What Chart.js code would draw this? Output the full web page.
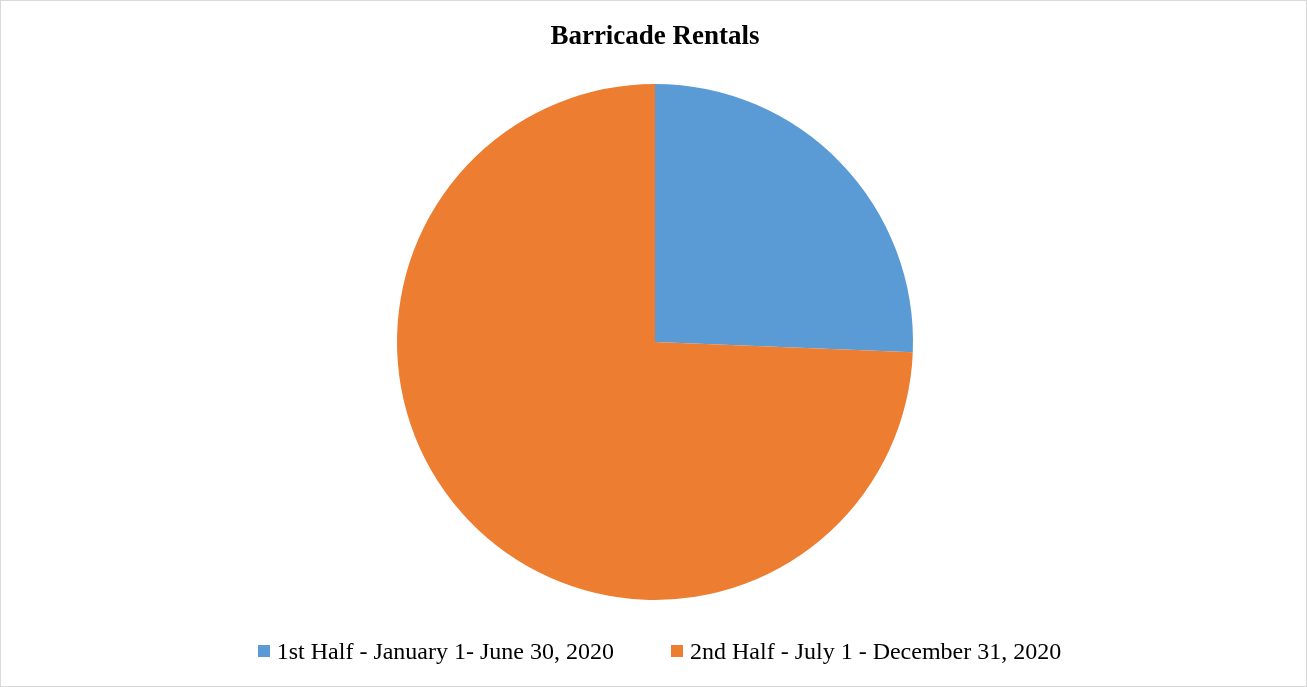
<!DOCTYPE html>
<html>
<head>
<meta charset="utf-8">
<script src="https://cdn.jsdelivr.net/npm/chart.js@4"></script>
<style>
  html, body { margin: 0; padding: 0; background: #fff; }
  #wrap {
    position: relative;
    width: 1307px;
    height: 687px;
    box-sizing: border-box;
    border: 1px solid #d9d9d9;
    background: #fff;
  }
  #chart { position: absolute; left: 0; top: 0; }
  #legend {
    position: absolute;
    left: 12px;
    right: 0;
    top: 636px;
    display: flex;
    justify-content: center;
    font-family: "Liberation Serif", "Times New Roman", serif;
    font-size: 24px;
    color: #000;
    line-height: 28px;
  }
  .item { display: flex; align-items: center; margin: 0 28.5px; }
  .box { width: 12px; height: 12px; margin-right: 7px; }
</style>
</head>
<body>
<div id="wrap">
  <canvas id="chart" width="1305" height="685"></canvas>
  <div id="legend"></div>
</div>
<script>
const categories = [
  "1st Half - January 1- June 30, 2020",
  "2nd Half - July 1 - December 31, 2020",
];
const rentals = [41, 119];
const colors = ["#5B9BD5", "#ED7D31"];

document.addEventListener("DOMContentLoaded", () => {
  const ctx = document.getElementById("chart").getContext("2d");

  new Chart(ctx, {
    type: "pie",
    data: {
      labels: categories,
      datasets: [
        {
          data: rentals,
          backgroundColor: colors,
          borderWidth: 0,
        },
      ],
    },
    options: {
      responsive: false,
      animation: false,
      layout: { padding: { left: 3, right: 0, top: 0, bottom: 86 } },
      plugins: {
        legend: { display: false },
        tooltip: { enabled: false },
        title: {
          display: true,
          text: "Barricade Rentals",
          color: "#000",
          font: { family: "Liberation Serif", size: 27, weight: "bold" },
          padding: { top: 20, bottom: 30.6 },
        },
      },
    },
  });

  // Legend drawn as HTML below the pie
  document.getElementById("legend").innerHTML = categories
    .map(
      (c, i) => `
      <div class="item">
        <span class="box" style="background:${colors[i]}"></span>
        <span>${c}</span>
      </div>`
    )
    .join("");
});
</script>
</body>
</html>
